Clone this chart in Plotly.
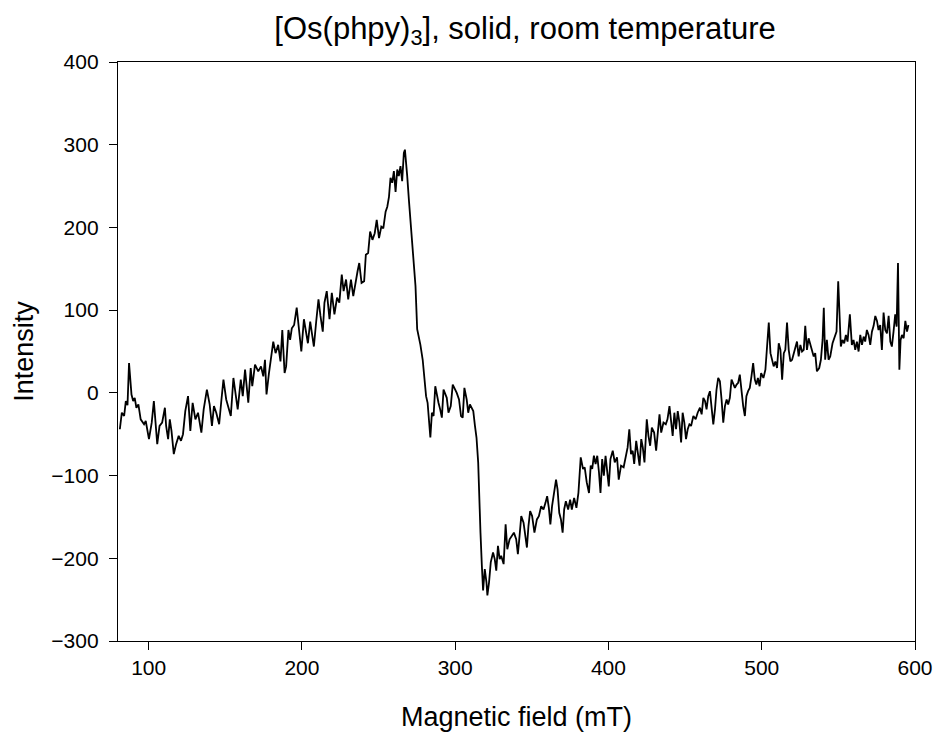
import plotly.graph_objects as go

# Magnetic field (mT)
field = [
    81.2, 82.5, 84.0, 85.1, 86.2, 87.2, 88.8, 89.9, 90.9, 92.0, 93.3, 94.8, 97.0, 98.1,
    100.2, 102.0, 103.4, 104.5, 105.6, 107.1, 108.8, 110.6, 111.4, 112.7, 113.8, 114.9,
    116.4, 117.9, 119.6, 121.1, 122.4, 123.9, 125.7, 127.2, 128.7, 130.5, 132.2, 134.4,
    135.9, 138.0, 139.8, 141.3, 142.6, 144.1, 146.0, 147.3, 148.8, 150.6, 152.1, 153.6,
    155.3, 156.4, 158.1, 160.1, 161.4, 162.9, 165.0, 166.6, 167.6, 169.4, 171.5, 173.3,
    174.8, 175.9, 176.9, 178.5, 180.2, 181.3, 182.8, 184.5, 186.0,
    187.2, 188.7, 189.7, 191.2, 192.3, 193.4, 194.9, 196.6, 198.1, 199.6, 201.3, 202.9,
    203.9, 205.4, 206.5, 207.8, 209.3, 210.8, 212.1, 213.6, 214.7, 216.2, 218.0, 219.5,
    221.2, 222.9, 224.4, 226.0, 227.2, 228.8, 230.2, 232.0, 233.5, 235.2, 236.3, 237.4,
    238.9, 240.6, 241.7, 243.2, 244.5, 246.0, 247.5, 248.8, 250.3, 251.8, 253.1, 254.6,
    255.7, 256.8, 257.8, 258.9, 260.0, 261.1, 262.2, 263.2, 264.3, 265.4, 266.5, 267.2,
    268.0, 268.7, 269.8, 270.8, 271.5, 273.0, 274.1, 275.2, 276.2, 277.3, 278.8, 279.9,
    281.0, 282.0, 283.1, 283.8, 284.8, 285.9, 287.0, 288.0,
    289.1, 290.2, 291.3, 292.4, 293.4, 294.5, 295.6, 297.1, 298.4, 299.5, 301.0, 302.5,
    303.8, 304.9, 306.0, 307.5, 308.5, 309.6, 310.7, 311.8, 312.9, 313.9, 315.0, 315.6,
    316.5, 317.4, 318.2, 319.3, 320.4, 321.0, 322.1, 323.2, 324.7, 325.8, 326.8, 327.9,
    329.0, 330.0, 331.6, 332.9, 334.0, 335.5, 337.0, 338.3, 339.8, 340.9, 342.0, 343.1,
    344.6, 345.7, 346.8, 347.8, 348.9, 350.2, 351.7, 353.3, 354.6, 356.1, 357.6, 358.9,
    360.0, 361.1, 362.1, 363.2, 364.3, 365.8, 366.8, 367.9, 369.0, 370.1, 371.1, 372.2,
    373.7, 375.0, 376.1, 377.6, 379.1, 380.4, 381.9, 383.4, 384.5, 385.8, 387.3, 388.4,
    389.4, 390.5, 391.6,
    392.7, 393.8, 394.8, 395.9, 397.0, 398.1, 399.1, 400.2, 401.3, 402.8, 404.1, 405.6,
    406.7, 408.2, 409.9, 411.4, 412.5, 413.6, 414.7, 415.8, 416.8, 418.1, 419.2, 420.3,
    421.4, 422.4, 423.5, 425.0, 426.1, 427.2, 428.3, 429.8, 431.1, 432.2, 433.3, 434.4,
    435.9, 437.4, 438.5, 439.8, 440.9, 441.9, 443.0, 444.1, 445.2, 446.3, 447.4, 448.4,
    449.5, 450.6, 451.7, 452.8, 453.9, 455.4, 456.9, 458.2, 459.7, 460.8, 461.9, 463.0,
    464.0, 465.1, 466.2, 467.3, 468.4, 469.5, 470.5, 471.6, 472.7, 473.8, 474.9, 476.0,
    477.1, 478.1, 479.2, 480.3, 481.4, 482.5, 483.6, 484.6, 485.7, 486.8, 487.9, 489.0,
    490.0, 491.1, 492.2, 493.3, 494.4, 495.5,
    496.5, 497.5, 498.6, 499.6, 501.1, 502.4, 503.5, 504.6, 505.7, 506.8, 507.8, 508.9,
    510.0, 511.1, 512.2, 513.3, 514.4, 515.4, 516.5, 517.6, 518.7, 519.8, 520.9, 521.9,
    523.0, 524.1, 525.2, 526.3, 527.4, 528.4, 529.5, 530.6, 531.7, 532.8, 533.9, 534.9,
    536.0, 537.5, 538.6, 539.7, 540.5, 541.4, 542.5, 543.6, 544.7, 546.2, 547.5, 548.8,
    549.9, 550.8, 551.6, 552.7, 553.8, 554.9, 556.0, 557.5, 558.8, 559.9, 561.0, 562.1,
    563.2, 564.3, 565.4, 566.5, 567.5, 568.6, 569.7, 570.8, 571.9, 573.0, 574.1, 575.2,
    576.2, 577.3, 578.4, 579.5, 580.6, 581.7, 582.8, 583.9, 584.9, 586.0, 587.1, 588.0,
    588.9, 589.8, 590.6, 591.5, 592.6, 593.7, 594.8, 595.7,
]

# EPR signal intensity (arb. units)
intensity = [
    -44, -24, -28, -10, -15, 36, -2, -10, -6, -18, -14, -32, -38, -34,
    -56, -36, -10, -40, -62, -40, -36, -18, -40, -56, -32, -46,
    -74, -62, -52, -58, -50, -22, -4, -46, -12, -32, -24, -48,
    -20, 4, -14, -40, -16, -24, -38, -12, 16, -8, -20, -28,
    18, 0, -20, 16, -4, 28, -12, 30, 8, 34, 26, 32,
    20, 40, -2, 24, 48, 62, 48, 58, 38,
    76, 24, 32, 76, 64, 78, 82, 103, 72, 50, 89, 72,
    60, 86, 72, 56, 86, 113, 93, 74, 109, 123, 89, 121,
    95, 115, 109, 143, 123, 137, 113, 137, 117, 139, 147, 157,
    133, 135, 167, 169, 195, 185, 193, 209, 187, 201, 199, 219,
    225, 237, 260, 254, 268, 243, 270, 262, 274, 256, 290, 294,
    270, 262, 233, 209, 199, 161, 129, 77, 68, 58, 40, 16,
    -4, -12, -44, -54, -24, -28, 8, -4,
    -12, -20, -30, 4, 0, -6, -24, -16, 10, 6, 0, -8,
    -28, -30, 6, -8, -24, -14, -18, -22, -40, -54, -84, -125,
    -169, -209, -239, -213, -229, -245, -229, -205, -193, -201, -215, -185,
    -201, -197, -207, -159, -189, -177, -173, -169, -177, -195, -173, -149,
    -157, -175, -187, -161, -143, -149, -169, -153, -149, -137, -141, -133,
    -125, -139, -159, -137, -125, -105, -117, -145, -153, -169, -141, -131,
    -141, -129, -141, -127, -139, -121, -78, -92, -90, -108, -121, -88,
    -92, -76, -86,
    -76, -96, -121, -80, -100, -76, -96, -113, -80, -70, -84, -78,
    -105, -88, -90, -76, -66, -44, -74, -70, -86, -58, -74, -88,
    -56, -66, -84, -32, -52, -64, -42, -48, -70, -48, -26, -48,
    -36, -38, -32, -16, -40, -52, -24, -44, -22, -36, -60, -24,
    -36, -56, -44, -38, -40, -28, -32, -24, -18, -26, -6, -10,
    -20, -4, 2, -16, -38, -20, 4, 18, 14, -8, -36, -16,
    -8, -14, -6, 16, 12, 6, 10, 12, 22, 2, -16, -28,
    -4, 2, 6, 20, 36, 16,
    10, 18, 8, 24, 18, 28, 52, 85, 48, 40, 32, 38,
    30, 60, 52, 16, 48, 52, 85, 52, 38, 40, 48, 56,
    62, 44, 58, 50, 52, 81, 52, 66, 58, 52, 44, 48,
    26, 30, 40, 64, 103, 40, 64, 40, 44, 60, 66, 74,
    135, 85, 56, 64, 60, 70, 62, 95, 58, 64, 52, 62,
    50, 70, 58, 68, 62, 76, 70, 58, 74, 81, 93, 87,
    76, 82, 52, 97, 76, 72, 93, 62, 56, 74, 95, 80,
    157, 28, 64, 70, 66, 87, 74, 82,
]

x_ticks = [100, 200, 300, 400, 500, 600]
y_ticks = [-300, -200, -100, 0, 100, 200, 300, 400]


def fmt(v):
    return ("\u2212" + str(-v)) if v < 0 else str(v)


FONT = "Liberation Sans, Arial, sans-serif"

fig = go.Figure(
    go.Scatter(
        x=field, y=intensity, mode="lines",
        line=dict(color="black", width=1.8),
        hoverinfo="skip", showlegend=False,
    )
)

fig.update_layout(
    width=945, height=738,
    margin=dict(l=118, r=24, t=62, b=96),
    paper_bgcolor="white", plot_bgcolor="white",
    font=dict(family=FONT, color="black"),
    title=dict(
        text="[Os(phpy)<sub>3</sub>], solid, room temperature",
        x=0.5556, xanchor="center", y=0.962, yanchor="middle",
        font=dict(size=31, family=FONT, color="black"),
    ),
)

fig.update_xaxes(
    range=[80, 600], tickvals=x_ticks, ticktext=[fmt(v) for v in x_ticks],
    ticks="outside", ticklen=8, tickwidth=1.3, tickcolor="black",
    showline=True, linecolor="black", linewidth=1.3, mirror=True,
    showgrid=False, zeroline=False,
    tickfont=dict(size=21, family=FONT),
    title=dict(text="Magnetic field (mT)", font=dict(size=27, family=FONT), standoff=28),
)
fig.update_yaxes(
    range=[-300, 400], tickvals=y_ticks, ticktext=[fmt(v) for v in y_ticks],
    ticks="outside", ticklen=8, tickwidth=1.3, tickcolor="black",
    showline=True, linecolor="black", linewidth=1.3, mirror=True,
    showgrid=False, zeroline=False, ticklabelstandoff=6,
    tickfont=dict(size=21, family=FONT),
    title=dict(text="Intensity", font=dict(size=27, family=FONT), standoff=9),
)

fig.write_html("out.html")
